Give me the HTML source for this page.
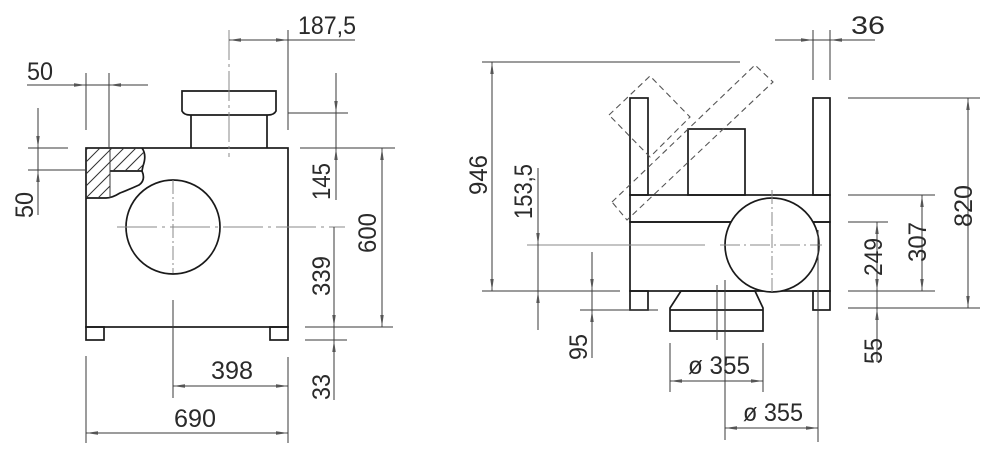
<!DOCTYPE html>
<html><head><meta charset="utf-8"><style>
html,body{margin:0;padding:0;background:#fff;}
svg{display:block;}
text{font-family:"Liberation Sans Narrow","Liberation Sans",sans-serif;font-size:25px;fill:#2a2a2a;}
</style></head><body>
<svg width="1000" height="458" viewBox="0 0 1000 458" xmlns="http://www.w3.org/2000/svg">
<defs>
<marker id="a" viewBox="0 0 12 4" refX="12" refY="2" markerWidth="12" markerHeight="4" orient="auto-start-reverse" markerUnits="userSpaceOnUse"><path d="M12,2 L0,0.3 L0,3.7 Z" fill="#555"/></marker>
<clipPath id="hc"><path d="M86,148 H142 Q147,155 143,166 L142,171 H110 V198 H86 Z"/></clipPath>
</defs>
<g fill="none" stroke="#1a1a1a" stroke-width="1.7">
<rect x="86" y="148" width="202" height="179"/>
<rect x="86" y="327" width="18" height="13"/>
<rect x="270" y="327" width="18" height="13"/>
<path d="M182,91 H276 V111 Q274,115 268,115 H190 Q184,115 182,111 Z"/>
<path d="M191,115 V148 M267,115 V148"/>
<circle cx="173" cy="227" r="47"/>
<path d="M142,148 Q147,155 143,166 L142,171 Q146,180 139,185 Q128,190 120,193 Q112,198 106,198 H86"/>
<path d="M110,171 H142" />
</g>
<g clip-path="url(#hc)" stroke="#333" stroke-width="1">
<path d="M60,200 L120,140 M72,200 L132,140 M84,200 L144,140 M96,200 L156,140 M108,200 L168,140 M48,200 L108,140 M36,200 L96,140"/>
</g>
<g fill="none" stroke="#3a3a3a" stroke-width="1">
<path d="M110,148 V198"/>
<path d="M229,30 V157" stroke="#888" stroke-dasharray="30,4,3,4"/>
<path d="M117,227 H345" stroke="#888" stroke-dasharray="40,5,3,5"/>
<path d="M173,180 V273" stroke="#888" stroke-dasharray="14,3,2,3"/>
<path d="M173,300 V398"/>
<path d="M229,40 H355"/><path d="M288,30 V130"/>
<path d="M229,40 H245" marker-start="url(#a)"/><path d="M272,40 H288" marker-end="url(#a)"/>
<path d="M27,85 H148"/><path d="M86,73 V130"/><path d="M109,73 V148"/>
<path d="M70,85 H86" marker-end="url(#a)"/><path d="M125,85 H109" marker-end="url(#a)"/>
<path d="M38,108 V215"/><path d="M28,148 H68"/><path d="M28,170 H86"/>
<path d="M38,132 V148" marker-end="url(#a)"/><path d="M38,186 V170" marker-end="url(#a)"/>
<path d="M336,73 V200"/><path d="M288,113 H348"/><path d="M300,148 H395"/>
<path d="M336,97 V113" marker-end="url(#a)"/><path d="M336,164 V148" marker-end="url(#a)"/>
<path d="M382,148 V327"/><path d="M305,327 H393"/>
<path d="M382,148 V164" marker-start="url(#a)"/><path d="M382,311 V327" marker-end="url(#a)"/>
<path d="M334,227 V400"/><path d="M305,340 H347"/>
<path d="M334,311 V327" marker-end="url(#a)"/><path d="M334,356 V340" marker-end="url(#a)"/>
<path d="M173,386 H288"/><path d="M288,357 V443"/>
<path d="M173,386 H189" marker-start="url(#a)"/><path d="M272,386 H288" marker-end="url(#a)"/>
<path d="M86,433 H288"/><path d="M86,356 V443"/>
<path d="M86,433 H102" marker-start="url(#a)"/><path d="M272,433 H288" marker-end="url(#a)"/>
</g>
<g fill="none" stroke="#1a1a1a" stroke-width="1.7">
<rect x="630" y="98" width="18" height="97"/>
<rect x="813" y="98" width="17" height="97"/>
<rect x="630" y="195" width="200" height="27"/>
<rect x="630" y="222" width="200" height="69"/>
<rect x="688" y="129" width="57" height="66"/>
<rect x="630" y="291" width="18" height="19"/>
<rect x="813" y="291" width="17" height="19"/>
<path d="M681,291 H755 L763,308 V331 H670 V308 Z"/><path d="M670,310 H763"/>
<circle cx="772" cy="245" r="47" fill="#fff"/>
</g>
<g fill="none" stroke="#555" stroke-width="1.1" stroke-dasharray="6,4">
<path d="M609,115 L650,76 L690,117 L650,157 Z"/>
<path d="M612,202 L755,65 L773,82 L627,220 Z"/>
</g>
<g fill="none" stroke="#3a3a3a" stroke-width="1">
<path d="M772,190 V295" stroke="#888" stroke-dasharray="14,3,2,3"/>
<path d="M527,245 H705" stroke="#888"/>
<path d="M720,245 H822" stroke="#888" stroke-dasharray="20,4,2,4"/>
<path d="M717,285 V340"/><path d="M725,280 V440"/>
<path d="M492,62 V291"/><path d="M482,62 H740"/><path d="M482,291 H620"/>
<path d="M492,62 V78" marker-start="url(#a)"/><path d="M492,275 V291" marker-end="url(#a)"/>
<path d="M538,168 V330"/>
<path d="M538,229 V245" marker-end="url(#a)"/><path d="M538,307 V291" marker-end="url(#a)"/>
<path d="M592,252 V358"/><path d="M580,310 H658"/>
<path d="M592,275 V291" marker-end="url(#a)"/><path d="M592,326 V310" marker-end="url(#a)"/>
<path d="M775,40 H875"/><path d="M813,30 V80"/><path d="M830,30 V80"/>
<path d="M797,40 H813" marker-end="url(#a)"/><path d="M846,40 H830" marker-end="url(#a)"/>
<path d="M968,98 V308"/><path d="M848,98 H980"/><path d="M848,308 H980"/>
<path d="M968,98 V114" marker-start="url(#a)"/><path d="M968,292 V308" marker-end="url(#a)"/>
<path d="M922,195 V291"/><path d="M848,195 H935"/><path d="M848,291 H935"/>
<path d="M922,195 V211" marker-start="url(#a)"/><path d="M922,275 V291" marker-end="url(#a)"/>
<path d="M877,222 V362"/><path d="M848,222 H888"/>
<path d="M877,222 V238" marker-start="url(#a)"/><path d="M877,275 V291" marker-end="url(#a)"/>
<path d="M877,324 V308" marker-end="url(#a)"/>
<path d="M670,381 H763"/><path d="M670,343 V392"/><path d="M763,343 V392"/>
<path d="M670,381 H686" marker-start="url(#a)"/><path d="M747,381 H763" marker-end="url(#a)"/>
<path d="M725,428 H818"/><path d="M725,397 V440"/><path d="M818,230 V442"/>
<path d="M725,428 H741" marker-start="url(#a)"/><path d="M802,428 H818" marker-end="url(#a)"/>
</g>
<text x="298" y="34" textLength="58" lengthAdjust="spacingAndGlyphs">187,5</text>
<text x="27" y="80" textLength="26" lengthAdjust="spacingAndGlyphs">50</text>
<text transform="translate(33,218) rotate(-90)" textLength="26" lengthAdjust="spacingAndGlyphs">50</text>
<text transform="translate(330,200) rotate(-90)" textLength="37" lengthAdjust="spacingAndGlyphs">145</text>
<text transform="translate(376,253) rotate(-90)" textLength="40" lengthAdjust="spacingAndGlyphs">600</text>
<text transform="translate(330,296) rotate(-90)" textLength="40" lengthAdjust="spacingAndGlyphs">339</text>
<text transform="translate(330,400) rotate(-90)" textLength="26" lengthAdjust="spacingAndGlyphs">33</text>
<text x="211" y="379" textLength="42" lengthAdjust="spacingAndGlyphs">398</text>
<text x="174" y="427" textLength="42" lengthAdjust="spacingAndGlyphs">690</text>
<text x="851" y="34" textLength="34" lengthAdjust="spacingAndGlyphs">36</text>
<text transform="translate(487,195) rotate(-90)" textLength="40" lengthAdjust="spacingAndGlyphs">946</text>
<text transform="translate(532,219) rotate(-90)" textLength="55" lengthAdjust="spacingAndGlyphs">153,5</text>
<text transform="translate(587,360) rotate(-90)" textLength="26" lengthAdjust="spacingAndGlyphs">95</text>
<text transform="translate(882,276) rotate(-90)" textLength="38" lengthAdjust="spacingAndGlyphs">249</text>
<text transform="translate(926,262) rotate(-90)" textLength="40" lengthAdjust="spacingAndGlyphs">307</text>
<text transform="translate(972,227) rotate(-90)" textLength="42" lengthAdjust="spacingAndGlyphs">820</text>
<text transform="translate(882,364) rotate(-90)" textLength="26" lengthAdjust="spacingAndGlyphs">55</text>
<text x="688" y="374" textLength="62" lengthAdjust="spacingAndGlyphs">ø 355</text>
<text x="743" y="421" textLength="60" lengthAdjust="spacingAndGlyphs">ø 355</text>
</svg>
</body></html>
